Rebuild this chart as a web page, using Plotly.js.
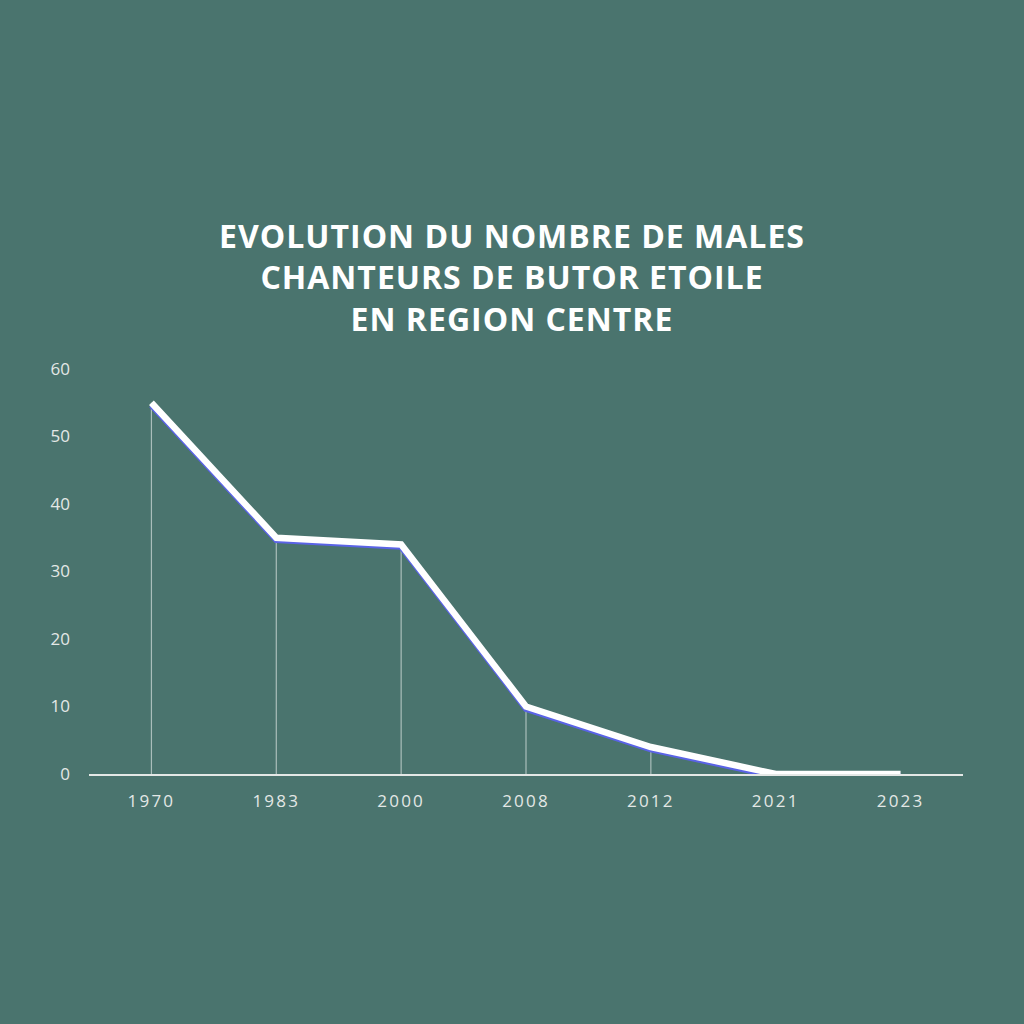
<!DOCTYPE html>
<html>
<head>
<meta charset="utf-8">
<script src="https://cdn.plot.ly/plotly-3.0.1.min.js"></script>
<style>html,body{margin:0;padding:0;background:#4A746E;}#chart{width:1024px;height:1024px;}</style>
</head>
<body>
<div id="chart"></div>
<script>
const years = ["1970", "1983", "2000", "2008", "2012", "2021", "2023"];
const males = [55, 35, 34, 10, 4, 0, 0];
const zeros = [0, 0, 0, 0, 0, 0, 0];
const titleText = "EVOLUTION DU NOMBRE DE MALES<br>CHANTEURS DE BUTOR ETOILE<br>EN REGION CENTRE";

const traces = [
  {
    x: years, y: males, type: "scatter", mode: "none",
    error_y: {type: "data", symmetric: false, array: zeros, arrayminus: males,
              color: "rgba(235,240,238,0.6)", thickness: 1.2, width: 0},
    hoverinfo: "skip", showlegend: false
  },
  {
    x: years, y: males, type: "scatter", mode: "lines", yaxis: "y2",
    line: {color: "#5A63E6", width: 6},
    hoverinfo: "skip", showlegend: false
  },
  {
    x: years, y: males, type: "scatter", mode: "lines", yaxis: "y3",
    line: {color: "#FFFFFF", width: 6.5},
    showlegend: false
  }
];

const layout = {
  width: 1024, height: 1024,
  paper_bgcolor: "#4A746E", plot_bgcolor: "#4A746E",
  margin: {l: 88.5, r: 60.5, t: 369, b: 250},
  title: {
    text: titleText,
    font: {family: "Open Sans", size: 32, color: "#FFFFFF", weight: 700},
    x: 0.5, xanchor: "center", xref: "container",
    y: 0.758, yanchor: "top", yref: "container"
  },
  xaxis: {
    type: "category", range: [-0.5, 6.5],
    showgrid: false, zeroline: false,
    showline: true, linecolor: "#E4E8E6", linewidth: 2,
    ticks: "", tickfont: {family: "Open Sans", size: 17, color: "#E4E8E6"},
    ticklabelstandoff: 11
  },
  yaxis: {
    range: [0, 60], tickvals: [0, 10, 20, 30, 40, 50, 60],
    showgrid: false, zeroline: false, showline: false,
    ticks: "", tickfont: {family: "Open Sans", size: 17, color: "#E4E8E6"},
    ticklabelstandoff: 18
  },
  yaxis2: {
    range: [0.35, 60.35], overlaying: "y", visible: false
  },
  yaxis3: {
    range: [0, 60], overlaying: "y", visible: false
  }
};

Plotly.newPlot("chart", traces, layout, {displayModeBar: false, staticPlot: true}).then(function (gd) {
  gd.querySelectorAll(".gtitle").forEach(function (t) { t.style.letterSpacing = "1px"; });
  gd.querySelectorAll(".xtick text").forEach(function (t) { t.style.letterSpacing = "2.2px"; });
});
</script>
</body>
</html>
